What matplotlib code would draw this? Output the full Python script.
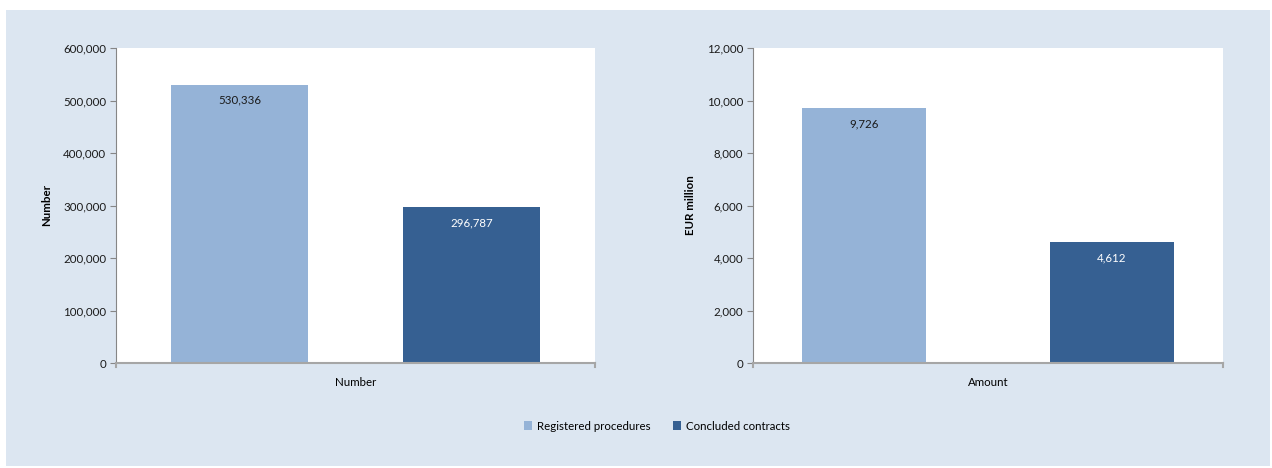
import matplotlib.pyplot as plt
from matplotlib.patches import Patch
from matplotlib.ticker import FuncFormatter

series = ["Registered procedures", "Concluded contracts"]
number_values = [530336, 296787]
amount_values = [9726, 4612]
colors = ["#95B3D7", "#366092"]
label_colors = ["#1a1a1a", "white"]

plt.rcParams['font.family'] = ['Lato', 'DejaVu Sans']
fig = plt.figure(figsize=(12.72, 4.68), dpi=100)
fig.patch.set_facecolor("white")

# light blue panel behind both charts
panel = plt.Rectangle((6 / 1272, 1 - 466 / 468), 1264 / 1272, 456 / 468,
                      transform=fig.transFigure, facecolor="#DCE6F1",
                      edgecolor="none", zorder=-10)
fig.patches.append(panel)

W, H = 1272, 468
ax1 = fig.add_axes([116 / W, 1 - 363 / H, (595 - 116) / W, (363 - 48) / H])
ax2 = fig.add_axes([753 / W, 1 - 363 / H, (1223 - 753) / W, (363 - 48) / H])

comma = FuncFormatter(lambda v, p: f"{v:,.0f}")
FS = 8.3


def draw(ax, values, width, xpad, ymax, step, ylabel, xlabel, offset):
    xs = range(len(values))
    bars = ax.bar(xs, values, width=width, color=colors, zorder=2)
    for b, v, c in zip(bars, values, label_colors):
        ax.text(b.get_x() + b.get_width() / 2, v - offset, f"{v:,}",
                ha="center", va="center", fontsize=FS, color=c)
    ax.set_xlim(-xpad, len(values) - 1 + xpad)
    ax.set_ylim(0, ymax)
    ax.set_yticks(range(0, ymax + 1, step))
    ax.yaxis.set_major_formatter(comma)
    ax.set_xticks([])
    ax.set_facecolor("white")
    for s in ["top", "right"]:
        ax.spines[s].set_visible(False)
    ax.spines["left"].set_color("#868686")
    ax.spines["bottom"].set_color("#A6A6A6")
    ax.spines["bottom"].set_linewidth(1.5)
    ax.tick_params(axis="y", length=4, color="#868686", labelsize=FS,
                   labelcolor="#1a1a1a", pad=3)
    ax.set_ylabel(ylabel, fontsize=FS, fontweight="bold", labelpad=8)
    ax.set_xlabel(xlabel, fontsize=FS, labelpad=10)
    # small end ticks on the category axis
    for x in ax.get_xlim():
        ax.plot([x, x], [0, -ymax * 0.012], color="#A6A6A6", lw=1.5,
                clip_on=False, zorder=3)


draw(ax1, number_values, 0.59, 0.532, 600000, 100000, "Number", "Number",
     30000)
draw(ax2, amount_values, 0.50, 0.449, 12000, 2000, "EUR million", "Amount",
     600)

handles = [Patch(facecolor=c, label=s) for c, s in zip(colors, series)]
fig.legend(handles=handles, loc="center", bbox_to_anchor=(657 / W, 1 - 426 / H),
           ncol=2, frameon=False, fontsize=FS, handlelength=0.7,
           handleheight=0.7, handletextpad=0.4, columnspacing=2.0)

fig.savefig("out.png", dpi=100)
